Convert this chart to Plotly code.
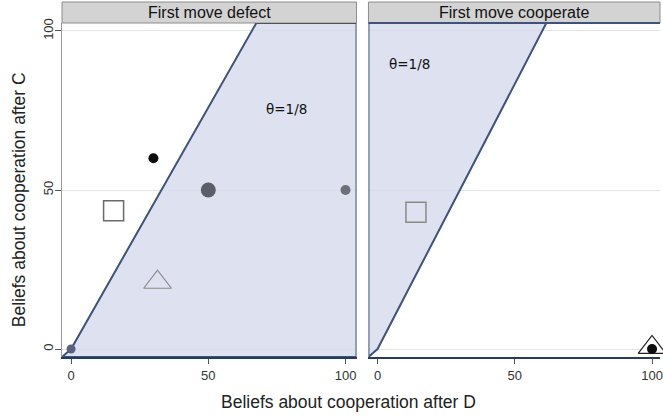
import plotly.graph_objects as go

# ---- data ----
panel_titles = ["First move defect", "First move cooperate"]
theta_label = "θ=1/8"
x_ticks = [0, 50, 100]
y_ticks = [0, 50, 100]

# boundary line top x (where boundary line reaches top of panel)
boundary_top_x = [67.5, 61.5]

# left panel points
d_black_x, d_black_y = [30], [60]
d_gray_big_x, d_gray_big_y = [50], [50]
d_gray_x, d_gray_y = [100], [50]
d_origin_x, d_origin_y = [0], [0]
d_square_x, d_square_y = [15.5], [43.5]
d_tri_x, d_tri_y = [31.5], [21]

# right panel points
c_square_x, c_square_y = [14], [43]
c_tri_x, c_tri_y = [100], [0.5]
c_black_x, c_black_y = [100], [0]

XR1 = [-3.3, 104]
XR2 = [-3.3, 102.9]
YR = [-2.5, 102.5]

fill_col = "rgba(213,217,236,0.8)"
edge_col = "#3f5378"

fig = go.Figure()

# shaded regions
fig.add_trace(go.Scatter(
    x=[XR1[0], 0, boundary_top_x[0], XR1[1], XR1[1], XR1[0]],
    y=[YR[0], 0, YR[1], YR[1], YR[0], YR[0]],
    fill="toself", fillcolor=fill_col, mode="lines",
    line=dict(color=edge_col, width=2), xaxis="x", yaxis="y",
    hoverinfo="skip", showlegend=False))
fig.add_trace(go.Scatter(
    x=[XR2[0], 0, boundary_top_x[1], XR2[0], XR2[0]],
    y=[YR[0], 0, YR[1], YR[1], YR[0]],
    fill="toself", fillcolor=fill_col, mode="lines",
    line=dict(color=edge_col, width=2), xaxis="x2", yaxis="y2",
    hoverinfo="skip", showlegend=False))

def pts(x, y, ax, sym, size, color, lcol, lw=1.5):
    fig.add_trace(go.Scatter(
        x=x, y=y, mode="markers", xaxis="x" + ax, yaxis="y" + ax,
        marker=dict(symbol=sym, size=size, color=color,
                    line=dict(color=lcol, width=lw)),
        showlegend=False, cliponaxis=False, hoverinfo="skip"))

pts(d_square_x, d_square_y, "", "square-open", 20, "#6a6a6a", "#6a6a6a", 1.5)
pts(d_tri_x, d_tri_y, "", "triangle-up-open", 24, "#8a8a8a", "#8a8a8a", 1.2)
pts(d_black_x, d_black_y, "", "circle", 10, "#0d0d0d", "#0d0d0d", 0)
pts(d_gray_big_x, d_gray_big_y, "", "circle", 15, "#5b5e68", "#5b5e68", 0)
pts(d_gray_x, d_gray_y, "", "circle", 10, "#6e7078", "#6e7078", 0)
pts(d_origin_x, d_origin_y, "", "circle", 9, "#5a6080", "#5a6080", 0)

pts(c_square_x, c_square_y, "2", "square-open", 20, "#8a8a8a", "#8a8a8a", 1.5)
pts(c_tri_x, c_tri_y, "2", "triangle-up", 24, "white", "#222222", 1.2)
pts(c_black_x, c_black_y, "2", "circle", 10, "#0d0d0d", "#0d0d0d", 0)

L, R, T, B = 62, 10, 23, 60
W, H = 673, 417
pw = W - L - R
ph = H - T - B
d1 = [0, (358 - L) / pw]
d2 = [(370 - L) / pw, 1]

tfont = dict(size=13, color="#333", family="Liberation Sans")
axis_common = dict(showgrid=False, zeroline=False, ticks="outside", ticklen=5,
                   tickcolor="#555", tickfont=tfont,
                   showline=True, linecolor="#2b3a55", linewidth=2)
fig.update_layout(
    width=W, height=H, margin=dict(l=L, r=R, t=T, b=B),
    paper_bgcolor="white", plot_bgcolor="white",
    xaxis=dict(domain=d1, range=XR1, tickvals=x_ticks, **axis_common),
    xaxis2=dict(domain=d2, range=XR2, tickvals=x_ticks, anchor="y2", **axis_common),
    yaxis=dict(range=YR, tickvals=y_ticks, tickangle=-90, showgrid=True,
               gridcolor="#e4e4e4", gridwidth=1, zeroline=False, ticks="outside",
               ticklen=6, tickcolor="#555", showline=True, linecolor="#999", linewidth=1,
               tickfont=tfont, ticklabelstandoff=-3),
    yaxis2=dict(range=YR, tickvals=y_ticks, showticklabels=False, showgrid=True,
                gridcolor="#e4e4e4", gridwidth=1, zeroline=False, anchor="x2",
                showline=False),
)

hdr_top = 1 + 21 / ph
for xr, title in [("x domain", panel_titles[0]), ("x2 domain", panel_titles[1])]:
    fig.add_shape(type="rect", xref=xr, yref="paper", x0=0, x1=1, y0=1, y1=hdr_top,
                  fillcolor="#d3d3d3", line=dict(color="#8c8c8c", width=1), layer="below")
    fig.add_annotation(xref=xr, yref="paper", x=0.5, y=(1 + hdr_top) / 2,
                       text=title, showarrow=False, yanchor="middle",
                       font=dict(size=16, color="#111", family="Liberation Sans"))
# dark top border of right panel
fig.add_shape(type="line", xref="x2 domain", yref="paper", x0=0, x1=1, y0=1, y1=1,
              line=dict(color=edge_col, width=2))

fig.add_annotation(xref="x", yref="y", x=78.5, y=75.5, text=theta_label, showarrow=False,
                   font=dict(size=13.5, color="#111", family="DejaVu Sans"))
fig.add_annotation(xref="x2", yref="y2", x=11.5, y=89.5, text=theta_label, showarrow=False,
                   font=dict(size=13.5, color="#111", family="DejaVu Sans"))

fig.add_annotation(xref="paper", yref="paper", x=(350 - L) / pw, y=-(402 - (H - B)) / ph,
                   text="Beliefs about cooperation after D", showarrow=False,
                   yanchor="middle", font=dict(size=17.5, color="#222", family="Liberation Sans"))
fig.add_annotation(xref="paper", yref="paper", x=-(L - 19) / pw, y=(H - B - 200) / ph,
                   text="Beliefs about cooperation after C", showarrow=False, textangle=-90,
                   xanchor="center", yanchor="middle",
                   font=dict(size=17.5, color="#222", family="Liberation Sans"))

fig.write_html("out.html", config={"displayModeBar": False},
               post_script="document.body.style.margin='0';document.body.style.overflow='hidden';")
